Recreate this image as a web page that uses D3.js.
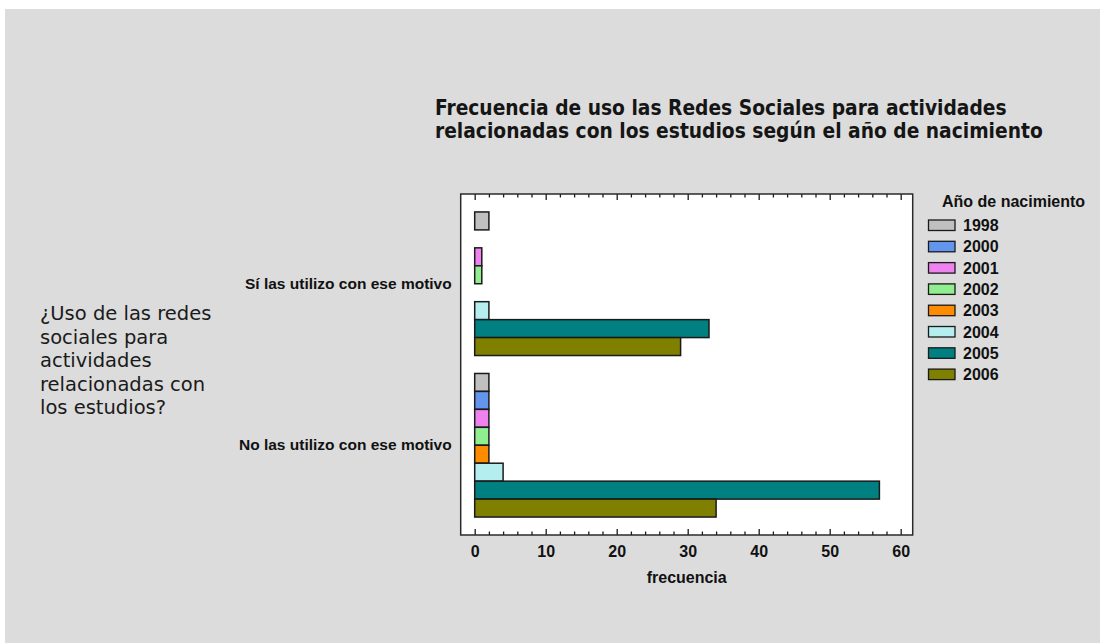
<!DOCTYPE html>
<html>
<head>
<meta charset="utf-8">
<script src="https://cdn.jsdelivr.net/npm/d3@7"></script>
<style>
  html, body { margin: 0; padding: 0; background: #ffffff; }
  svg { display: block; }
</style>
</head>
<body>
<svg id="chart" width="1100" height="643"></svg>
<script>
// ---- data ----
const categories = ["Sí las utilizo con ese motivo", "No las utilizo con ese motivo"];
const years = ["1998", "2000", "2001", "2002", "2003", "2004", "2005", "2006"];
const siValues = [2, 0, 1, 1, 0, 2, 33, 29];
const noValues = [2, 2, 2, 2, 2, 4, 57, 34];
const yearColors = ["#c0c0c0", "#6495ed", "#ee82ee", "#90ee90", "#ff8c00", "#b4eeee", "#008080", "#808000"];
const xMajorTicks = [0, 10, 20, 30, 40, 50, 60];
const xMinorTicks = d3.range(0, 61, 2);
const titleLines = ["Frecuencia de uso las Redes Sociales para actividades",
                    "relacionadas con los estudios según el año de nacimiento"];
const yTitleLines = ["¿Uso de las redes", "sociales para", "actividades", "relacionadas con", "los estudios?"];
const xTitle = "frecuencia";
const legendTitle = "Año de nacimiento";

const seriesByCategory = [siValues, noValues];
const rows = [];
categories.forEach((c, ci) => years.forEach((y, yi) => rows.push({cat: c, year: y, value: seriesByCategory[ci][yi], color: yearColors[yi]})));

// ---- layout ----
const svg = d3.select("#chart");
const frame = {left: 460.7, right: 912.7, top: 194, bottom: 535};

svg.append("rect").attr("x", 5).attr("y", 9).attr("width", 1095).attr("height", 634).attr("fill", "#dcdcdc");

svg.append("rect")
  .attr("x", frame.left).attr("y", frame.top)
  .attr("width", frame.right - frame.left).attr("height", frame.bottom - frame.top)
  .attr("fill", "#ffffff");

const x = d3.scaleLinear().domain([0, 60]).range([474.7, 900.7]);
const y0 = d3.scaleBand().domain(categories).range([frame.top, frame.bottom]).paddingInner(1/9).paddingOuter(1/9);
const y1 = d3.scaleBand().domain(years).range([0, y0.bandwidth()]);
const color = d3.scaleOrdinal().domain(years).range(yearColors);

// bars
svg.append("g").selectAll("rect").data(rows).join("rect")
  .attr("x", x(0))
  .attr("y", d => y0(d.cat) + y1(d.year))
  .attr("width", d => x(d.value) - x(0))
  .attr("height", y1.bandwidth())
  .attr("fill", d => color(d.year))
  .attr("stroke", "#1a1a1a")
  .attr("stroke-width", 1.5);

// axes (ticks pointing inward)
const axisFont = "'Liberation Sans', Arial, sans-serif";
const bottomMajor = svg.append("g").attr("transform", `translate(0,${frame.bottom})`)
  .call(d3.axisBottom(x).tickValues(xMajorTicks).tickSizeInner(-6).tickSizeOuter(0).tickPadding(11).tickFormat(d3.format("d")));
const bottomMinor = svg.append("g").attr("transform", `translate(0,${frame.bottom})`)
  .call(d3.axisBottom(x).tickValues(xMinorTicks.filter(v => v % 10 !== 0)).tickSizeInner(-3.5).tickSizeOuter(0).tickFormat(""));
const topMajor = svg.append("g").attr("transform", `translate(0,${frame.top})`)
  .call(d3.axisTop(x).tickValues(xMajorTicks).tickSizeInner(-6).tickSizeOuter(0).tickFormat(""));
const topMinor = svg.append("g").attr("transform", `translate(0,${frame.top})`)
  .call(d3.axisTop(x).tickValues(xMinorTicks.filter(v => v % 10 !== 0)).tickSizeInner(-3.5).tickSizeOuter(0).tickFormat(""));
[bottomMajor, bottomMinor, topMajor, topMinor].forEach(g => {
  g.select(".domain").remove();
  g.selectAll(".tick line").attr("stroke", "#1a1a1a").attr("stroke-width", 1.3);
});
bottomMajor.selectAll(".tick text")
  .attr("font-family", axisFont).attr("font-weight", "bold").attr("font-size", 16).attr("fill", "#111");

// category labels
const yAxis = svg.append("g").attr("transform", `translate(${frame.left},0)`)
  .call(d3.axisLeft(y0).tickSize(0).tickPadding(9));
yAxis.select(".domain").remove();
yAxis.selectAll(".tick text")
  .attr("font-family", axisFont).attr("font-weight", "bold").attr("font-size", 15.5).attr("fill", "#111");

// frame border
svg.append("rect")
  .attr("x", frame.left).attr("y", frame.top)
  .attr("width", frame.right - frame.left).attr("height", frame.bottom - frame.top)
  .attr("fill", "none").attr("stroke", "#2a2a2a").attr("stroke-width", 1.5);

// x title
svg.append("text").attr("x", (frame.left + frame.right) / 2).attr("y", 583)
  .attr("text-anchor", "middle").attr("font-family", axisFont).attr("font-weight", "bold")
  .attr("font-size", 16).attr("fill", "#111").text(xTitle);

// chart title: one text element with a tspan per line, first line fitted to the reference width
const title = svg.append("text")
  .attr("x", 435).attr("y", 114.5)
  .attr("font-family", "'DejaVu Sans Condensed', 'DejaVu Sans', sans-serif")
  .attr("font-weight", "bold")
  .attr("font-size", 20).attr("fill", "#151515");
const tspans = title.selectAll("tspan").data(titleLines).join("tspan")
  .attr("x", 435).attr("dy", (d, i) => i === 0 ? 0 : 23).text(d => d);
const w0 = tspans.nodes()[0].getComputedTextLength();
title.attr("font-size", Math.min(21, 20 * 572 / w0));

// y title (one text element, tspan per line)
const yTitle = svg.append("text")
  .attr("x", 40).attr("y", 320)
  .attr("font-family", "'DejaVu Sans', sans-serif")
  .attr("font-size", 19.5).attr("fill", "#1a1a1a");
yTitle.selectAll("tspan").data(yTitleLines).join("tspan")
  .attr("x", 40).attr("dy", (d, i) => i === 0 ? 0 : 23.5).text(d => d);

// legend
const legend = svg.append("g");
legend.append("text").attr("x", 942).attr("y", 207)
  .attr("font-family", axisFont).attr("font-weight", "bold").attr("font-size", 16).attr("fill", "#111")
  .text(legendTitle);
const items = legend.selectAll("g.item").data(years).join("g").attr("class", "item")
  .attr("transform", (d, i) => `translate(0,${225 + i * 21.3})`);
items.append("rect").attr("x", 928.5).attr("y", -5).attr("width", 26.5).attr("height", 10.5)
  .attr("fill", d => color(d)).attr("stroke", "#1a1a1a").attr("stroke-width", 1.3);
items.append("text").attr("x", 963).attr("y", 6)
  .attr("font-family", axisFont).attr("font-weight", "bold").attr("font-size", 16).attr("fill", "#111")
  .text(d => d);
</script>
</body>
</html>
